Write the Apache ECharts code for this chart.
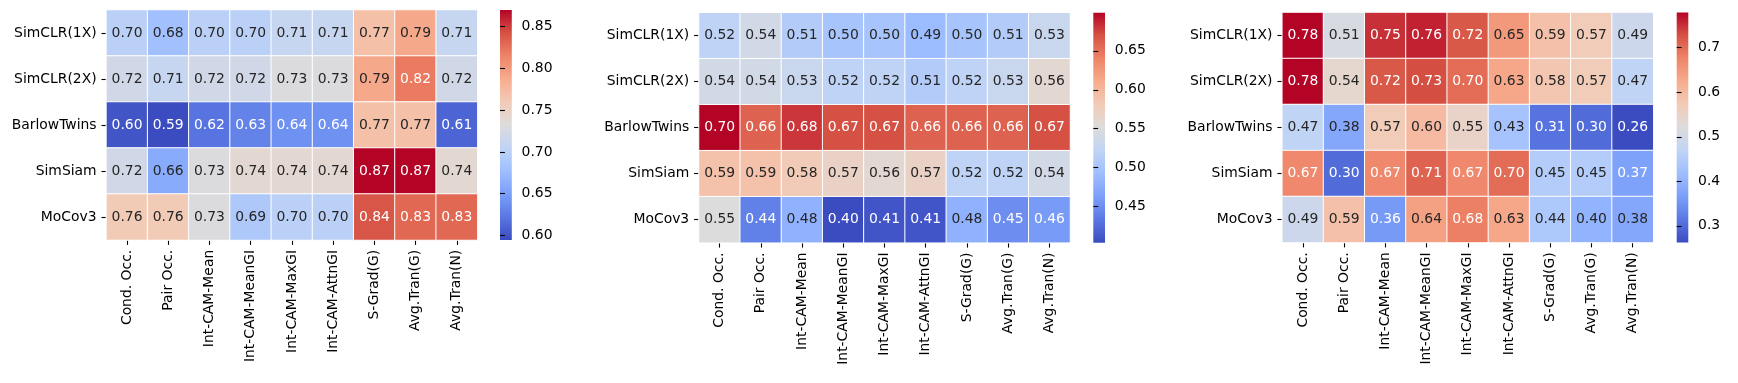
<!DOCTYPE html>
<html lang="en">
<head>
<meta charset="UTF-8">
<title>Heatmaps</title>
<script src="https://cdn.jsdelivr.net/npm/echarts@6/dist/echarts.min.js"></script>
<style>
    html, body { margin: 0; padding: 0; background: #fff; }
    #main { width: 1738px; height: 383px; }
</style>
</head>
<body>
<div id="main"></div>
<script>
    var models = ['SimCLR(1X)', 'SimCLR(2X)', 'BarlowTwins', 'SimSiam', 'MoCov3'];
    var methods = ['Cond. Occ.', 'Pair Occ.', 'Int-CAM-Mean', 'Int-CAM-MeanGI', 'Int-CAM-MaxGI',
        'Int-CAM-AttnGI', 'S-Grad(G)', 'Avg.Tran(G)', 'Avg.Tran(N)'];

    // left panel
    var scoresA = [
        [0.70, 0.68, 0.70, 0.70, 0.71, 0.71, 0.77, 0.79, 0.71],
        [0.72, 0.71, 0.72, 0.72, 0.73, 0.73, 0.79, 0.82, 0.72],
        [0.60, 0.59, 0.62, 0.63, 0.64, 0.64, 0.77, 0.77, 0.61],
        [0.72, 0.66, 0.73, 0.74, 0.74, 0.74, 0.87, 0.87, 0.74],
        [0.76, 0.76, 0.73, 0.69, 0.70, 0.70, 0.84, 0.83, 0.83]
    ];
    // middle panel
    var scoresB = [
        [0.52, 0.54, 0.51, 0.50, 0.50, 0.49, 0.50, 0.51, 0.53],
        [0.54, 0.54, 0.53, 0.52, 0.52, 0.51, 0.52, 0.53, 0.56],
        [0.70, 0.66, 0.68, 0.67, 0.67, 0.66, 0.66, 0.66, 0.67],
        [0.59, 0.59, 0.58, 0.57, 0.56, 0.57, 0.52, 0.52, 0.54],
        [0.55, 0.44, 0.48, 0.40, 0.41, 0.41, 0.48, 0.45, 0.46]
    ];
    // right panel
    var scoresC = [
        [0.78, 0.51, 0.75, 0.76, 0.72, 0.65, 0.59, 0.57, 0.49],
        [0.78, 0.54, 0.72, 0.73, 0.70, 0.63, 0.58, 0.57, 0.47],
        [0.47, 0.38, 0.57, 0.60, 0.55, 0.43, 0.31, 0.30, 0.26],
        [0.67, 0.30, 0.67, 0.71, 0.67, 0.70, 0.45, 0.45, 0.37],
        [0.49, 0.59, 0.36, 0.64, 0.68, 0.63, 0.44, 0.40, 0.38]
    ];

    // colour bar ranges and ticks
    var rangeA = [0.5945, 0.870];
    var rangeB = [0.4035, 0.699];
    var rangeC = [0.2626, 0.779];
    var ticksA = [0.60, 0.65, 0.70, 0.75, 0.80, 0.85];
    var ticksB = [0.45, 0.50, 0.55, 0.60, 0.65];
    var ticksC = [0.3, 0.4, 0.5, 0.6, 0.7];

    var coolwarm = ['#3b4cc0', '#5977e3', '#7b9ff9', '#9ebeff', '#c0d4f5', '#dddcdc',
        '#f2cbb7', '#f7ac8e', '#ee8468', '#d65244', '#b40426'];

    var panels = [
        { scores: scoresA, range: rangeA, ticks: ticksA, digits: 2, left: 106.4, top: 10, cbLeft: 500, cbWidth: 11.8 },
        { scores: scoresB, range: rangeB, ticks: ticksB, digits: 2, left: 699, top: 12.7, cbLeft: 1093.3, cbWidth: 11.7 },
        { scores: scoresC, range: rangeC, ticks: ticksC, digits: 1, left: 1282.3, top: 12.5, cbLeft: 1676.7, cbWidth: 11.6 }
    ];
    var cellW = 371, cellH = 230;
    var fs = 13.9;

    var grids = [], xAxes = [], yAxes = [], series = [], visualMaps = [];

    var gradient = new echarts.graphic.LinearGradient(0, 1, 0, 0,
        coolwarm.map(function (c, i) { return { offset: i / (coolwarm.length - 1), color: c }; }));

    // heatmap grids
    panels.forEach(function (p, k) {
        grids.push({ left: p.left, top: p.top, width: cellW, height: cellH, outerBoundsMode: 'none' });
        xAxes.push({
            gridIndex: k, type: 'category', data: methods, position: 'bottom',
            axisLine: { show: false },
            axisTick: { show: true, alignWithLabel: true, length: 4.9, lineStyle: { color: '#000', width: 1.1 } },
            axisLabel: { rotate: 90, fontSize: fs, color: '#000', margin: 9.8, interval: 0 },
            splitLine: { show: false }, splitArea: { show: false }
        });
        yAxes.push({
            gridIndex: k, type: 'category', data: models, inverse: true,
            axisLine: { show: false },
            axisTick: { show: true, alignWithLabel: true, length: 4.9, lineStyle: { color: '#000', width: 1.1 } },
            axisLabel: { fontSize: fs, color: '#000', margin: 9.8, interval: 0 },
            splitLine: { show: false }, splitArea: { show: false }
        });
        var lo = p.range[0], hi = p.range[1];
        var data = [];
        p.scores.forEach(function (row, r) {
            row.forEach(function (v, c) {
                var t = (v - lo) / (hi - lo);
                var light = t < 0.217 || t > 0.77;
                data.push({ value: [c, r, v], label: { color: light ? '#ffffff' : '#262626' } });
            });
        });
        series.push({
            type: 'heatmap', xAxisIndex: k, yAxisIndex: k, data: data,
            itemStyle: { borderColor: '#ffffff', borderWidth: 1 },
            label: {
                show: true, fontSize: fs,
                formatter: function (q) { return q.value[2].toFixed(2); }
            },
            emphasis: { disabled: true }
        });
        visualMaps.push({
            show: false, type: 'continuous', seriesIndex: k, dimension: 2,
            min: lo, max: hi, inRange: { color: coolwarm }
        });
    });

    // colour bars
    panels.forEach(function (p, k) {
        var gi = 3 + k;
        grids.push({
            left: p.cbLeft, top: p.top, width: p.cbWidth, height: cellH,
            show: true, backgroundColor: gradient, borderWidth: 0, outerBoundsMode: 'none'
        });
        xAxes.push({ gridIndex: gi, type: 'value', show: false, min: 0, max: 1 });
        yAxes.push({
            gridIndex: gi, type: 'value', position: 'right',
            min: p.range[0], max: p.range[1],
            axisLine: { show: false },
            splitLine: { show: false },
            axisTick: { show: true, length: 4.9, lineStyle: { color: '#000', width: 1.1 }, customValues: p.ticks },
            axisLabel: {
                fontSize: fs, color: '#000', margin: 9.8, customValues: p.ticks,
                formatter: function (v) { return Number(v).toFixed(p.digits); }
            }
        });
        series.push({ type: 'scatter', xAxisIndex: gi, yAxisIndex: gi, data: [], silent: true });
    });

    var myChart = echarts.init(document.getElementById('main'));
    myChart.setOption({
        backgroundColor: '#ffffff',
        animation: false,
        textStyle: { fontFamily: 'DejaVu Sans' },
        grid: grids,
        xAxis: xAxes,
        yAxis: yAxes,
        visualMap: visualMaps,
        series: series
    });
</script>
</body>
</html>
